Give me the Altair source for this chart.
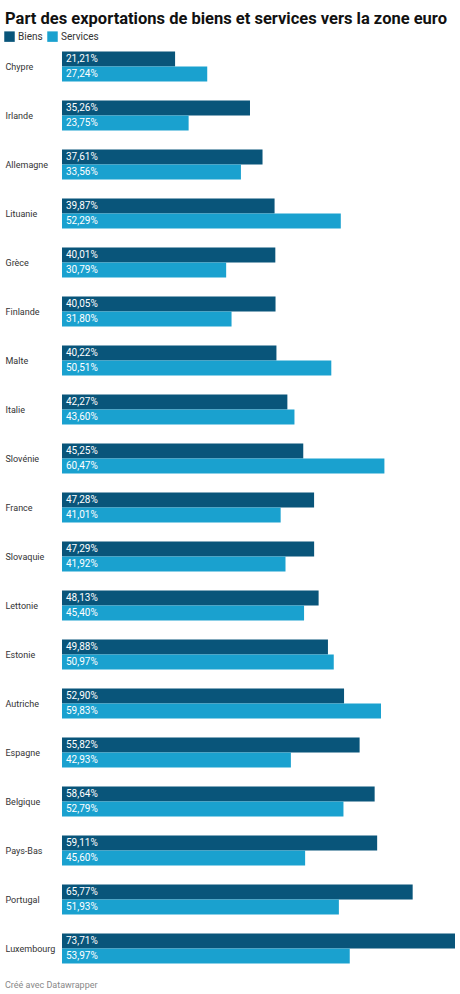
import altair as alt
import pandas as pd

# Share of exports going to the euro area, by country (%)
countries = ["Chypre", "Irlande", "Allemagne", "Lituanie", "Grèce", "Finlande", "Malte",
             "Italie", "Slovénie", "France", "Slovaquie", "Lettonie", "Estonie", "Autriche",
             "Espagne", "Belgique", "Pays-Bas", "Portugal", "Luxembourg"]
biens = [21.21, 35.26, 37.61, 39.87, 40.01, 40.05, 40.22, 42.27, 45.25, 47.28, 47.29,
         48.13, 49.88, 52.90, 55.82, 58.64, 59.11, 65.77, 73.71]
services = [27.24, 23.75, 33.56, 52.29, 30.79, 31.80, 50.51, 43.60, 60.47, 41.01, 41.92,
            45.40, 50.97, 59.83, 42.93, 52.79, 45.60, 51.93, 53.97]
series = ["Biens", "Services"]
colors = ["#09557a", "#1aa1cf"]

rows = []
for c, b, s in zip(countries, biens, services):
    rows.append({"pays": c, "type": "Biens", "valeur": b})
    rows.append({"pays": c, "type": "Services", "valeur": s})
df = pd.DataFrame(rows)
df["label"] = df["valeur"].map(lambda v: f"{v:.2f}".replace(".", ",") + "%")

W, H = 393, 931
FONT = "Roboto"
xmax = max(biens + services)

x = alt.X("valeur:Q", scale=alt.Scale(domain=[0, xmax], nice=False), axis=None)
y = alt.Y("pays:N", sort=countries, title=None,
          scale=alt.Scale(paddingInner=0.39, paddingOuter=0.195),
          axis=alt.Axis(ticks=False, domain=False, labelAlign="left", labelPadding=57,
                        labelFontSize=9, labelColor="#333333", labelFont=FONT,
                        labelBaseline="middle"))
yoff = alt.YOffset("type:N", sort=series, scale=alt.Scale(paddingInner=0, paddingOuter=0))

base = alt.Chart(df)

bars = base.mark_bar(cornerRadius=0).encode(
    x=x, y=y, yOffset=yoff,
    color=alt.Color("type:N", sort=series,
                    scale=alt.Scale(domain=series, range=colors),
                    legend=alt.Legend(title=None, orient="none", direction="horizontal",
                                      legendX=-58, legendY=-11, symbolType="square",
                                      symbolSize=110, symbolStrokeWidth=0,
                                      labelFontSize=10, labelFont=FONT,
                                      labelColor="#333333", labelOffset=3,
                                      columnPadding=4, symbolOpacity=1)),
)

labels = base.mark_text(align="left", baseline="middle", dx=4, color="white",
                        fontSize=10, font=FONT).encode(
    x=alt.X("zero:Q", scale=alt.Scale(domain=[0, xmax], nice=False), axis=None),
    y=y, yOffset=yoff, text="label:N",
).transform_calculate(zero="0")

footer = alt.Chart(pd.DataFrame({"t": ["Créé avec Datawrapper"]})).mark_text(
    align="left", baseline="middle", fontSize=9, font=FONT, color="#888888"
).encode(x=alt.value(-57), y=alt.value(H + 12), text="t:N")

chart = alt.layer(bars, labels, footer).properties(
    width=W, height=H,
    title=alt.TitleParams("Part des exportations de biens et services vers la zone euro",
                          anchor="start", frame="group", dx=-57, dy=16, fontSize=16.5,
                          font=FONT, fontWeight="bold", color="#111111", offset=20),
    autosize=alt.AutoSizeParams(type="none"),
    padding={"left": 62, "top": 42, "right": 5, "bottom": 21},
).configure(background="white").configure_view(stroke=None)

chart.save("out.html", embed_options={"renderer": "svg", "actions": False})
